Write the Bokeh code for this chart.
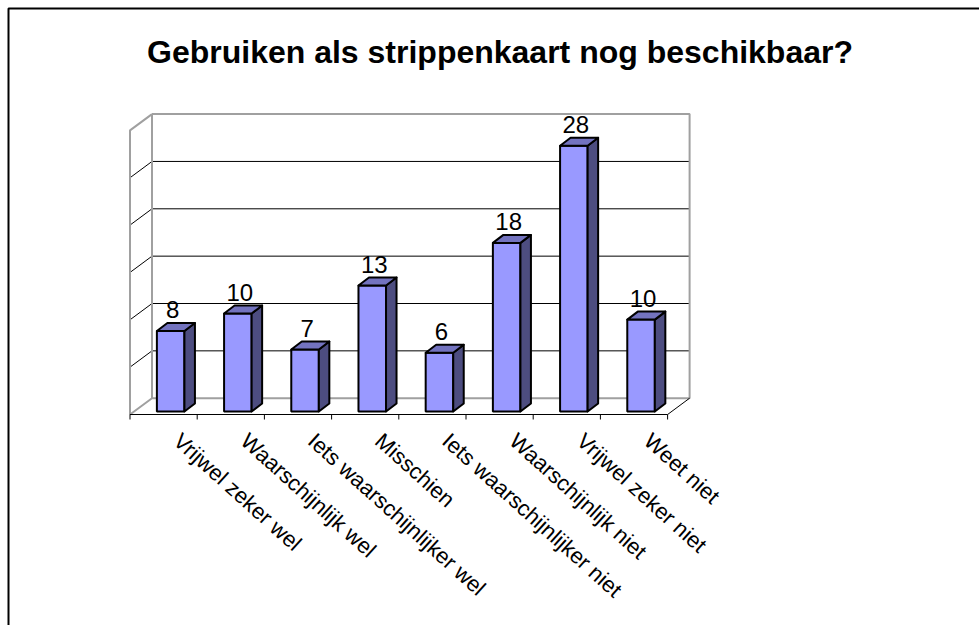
from bokeh.plotting import figure
from bokeh.embed import file_html
from bokeh.resources import INLINE
from bokeh.core.properties import value

title_text = "Gebruiken als strippenkaart nog beschikbaar?"
categories = ["Vrijwel zeker wel", "Waarschijnlijk wel", "Iets waarschijnlijker wel", "Misschien",
              "Iets waarschijnlijker niet", "Waarschijnlijk niet", "Vrijwel zeker niet", "Weet niet"]
heights = [8.5, 10.35, 6.55, 13.3, 6.2, 17.8, 28.06, 9.7]
labels = ["8", "10", "7", "13", "6", "18", "28", "10"]
grid_values = [5, 10, 15, 20, 25]
axis_max = 30

W, H = 979, 625
UX, UY = 67.2, 9.47          # pixels per category / per value unit
X0, Y0 = 129.5, 414.0        # figure pixel of category 0 / value 0
WALL_DX, WALL_DY = 22 / UX, 16.3 / UY
BAR_DX, BAR_DY = 10.5 / UX, 8 / UY
BAR_LEFT, BAR_W, BAR_BASE = 0.40, 0.41, 0.32
N = len(categories)

p = figure(width=W, height=H, output_backend="svg", toolbar_location=None,
           x_range=(-X0 / UX, (W - X0) / UX), y_range=((Y0 - H) / UY, Y0 / UY),
           min_border=0, outline_line_color=None, background_fill_color="white")
p.axis.visible = False
p.grid.visible = False

# slide frame
xl, xr = p.x_range.start, p.x_range.end
yb, yt = p.y_range.start, p.y_range.end
p.line([xl + 8 / UX, xl + 8 / UX, xr], [yb, yt - 8 / UY, yt - 8 / UY], line_color="black", line_width=2)

# grid lines on the walls
for v in grid_values:
    p.line([0, WALL_DX, N + WALL_DX], [v, v + WALL_DY, v + WALL_DY], line_color="black", line_width=1)

# walls
gray = "#A0A0A0"
p.line([WALL_DX, 0, 0, WALL_DX, N + WALL_DX, N + WALL_DX, WALL_DX],
       [axis_max + WALL_DY, axis_max, 0, WALL_DY, WALL_DY, axis_max + WALL_DY, axis_max + WALL_DY],
       line_color=gray, line_width=2)
p.line([WALL_DX, WALL_DX], [WALL_DY, axis_max + WALL_DY], line_color=gray, line_width=2)

# floor front and ticks
p.line([0, N, N + WALL_DX], [0, 0, WALL_DY], line_color="black", line_width=1)
tick_x = list(range(N + 1))
p.segment(tick_x, [0] * (N + 1), tick_x, [-5 / UY] * (N + 1), line_color="black", line_width=1)

# bars
lefts = [i + BAR_LEFT for i in range(N)]
rights = [l + BAR_W for l in lefts]
tops = [BAR_BASE + h for h in heights]
bases = [BAR_BASE] * N
p.quad(left=lefts, right=rights, bottom=bases, top=tops, fill_color="#9999FF", line_color="black", line_width=2)
p.patches([[r, r + BAR_DX, r + BAR_DX, r] for r in rights],
          [[b, b + BAR_DY, t + BAR_DY, t] for b, t in zip(bases, tops)],
          fill_color="#4D4D80", line_color="black", line_width=2, line_join="round")
p.patches([[l, l + BAR_DX, r + BAR_DX, r] for l, r in zip(lefts, rights)],
          [[t, t + BAR_DY, t + BAR_DY, t] for t in tops],
          fill_color="#7373BF", line_color="black", line_width=2, line_join="round")

# value labels
p.text([l + BAR_W / 2 + 2 / UX for l in lefts], [t + 21 / UY for t in tops], text=labels,
       text_font=value("Liberation Sans"), text_font_size="24px", text_color="black",
       text_align="center", text_baseline="alphabetic")

# category labels
p.text([i + 0.70 for i in range(N)], [-23 / UY] * N, text=categories, angle=-42, angle_units="deg",
       text_font=value("Liberation Sans"), text_font_size="22px", text_color="black",
       text_align="left", text_baseline="middle")

# title
p.text([(499.5 - X0) / UX], [(Y0 - 51) / UY], text=[title_text],
       text_font=value("Liberation Sans"), text_font_style="bold", text_font_size="32px",
       text_color="black", text_align="center", text_baseline="alphabetic")

open("out.html", "w").write(file_html(p, INLINE))
